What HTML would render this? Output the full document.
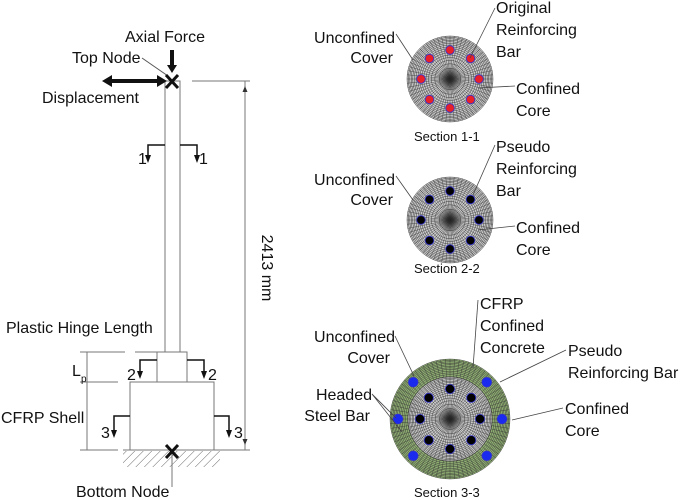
<!DOCTYPE html>
<html><head><meta charset="utf-8"><style>
html,body{margin:0;padding:0;background:#fff;width:685px;height:500px;overflow:hidden}
svg text{font-family:"Liberation Sans",Arial,sans-serif;font-size:16px;fill:#111}
</style></head><body>
<svg id="s" width="685" height="500" viewBox="0 0 685 500" xmlns="http://www.w3.org/2000/svg">
<defs>
<pattern id="h" width="6" height="6" patternUnits="userSpaceOnUse" patternTransform="rotate(45)"><line x1="0" y1="0" x2="0" y2="6" stroke="#666" stroke-width="1"/></pattern>
<radialGradient id="c"><stop offset="0" stop-color="#222" stop-opacity="0.9"/><stop offset="1" stop-color="#222" stop-opacity="0"/></radialGradient>
</defs>
<g stroke="#777" stroke-width="1" fill="none">
<rect x="165" y="81" width="15" height="271"/>
<rect x="157" y="352" width="30" height="30"/>
<rect x="130" y="382" width="84" height="68"/>
<line x1="123" y1="450" x2="250" y2="450"/>
<line x1="192" y1="81" x2="250" y2="81"/>
<line x1="245" y1="81" x2="245" y2="450"/>
<line x1="80" y1="352" x2="125" y2="352"/><line x1="135" y1="352" x2="157" y2="352"/>
<line x1="80" y1="382" x2="118" y2="382"/>
<line x1="80" y1="450" x2="118" y2="450"/>
<line x1="87" y1="352" x2="87" y2="450"/>
<line x1="172" y1="452" x2="172" y2="487"/>
<line x1="142" y1="58" x2="168" y2="76" stroke="#555"/>
</g>
<path d="M245,86 l-2.5,6 h5z M245,445 l-2.5,-6 h5z" fill="#333"/>
<rect x="123" y="451" width="97" height="16" fill="url(#h)"/>
<g stroke="#111" stroke-width="1.5" fill="none">
<path d="M165,145 H148 V157"/><path d="M180,145 H197 V157"/>
<path d="M157,360 H140 V373"/><path d="M187,360 H204 V373"/>
<path d="M130,416 H114 V432"/><path d="M214,416 H229 V432"/>
</g>
<path d="M145,155 h6 l-3,8z M194,155 h6 l-3,8z M137,371 h6 l-3,8z M201,371 h6 l-3,8z M111,430 h6 l-3,8z M226,430 h6 l-3,8z" fill="#111"/>
<g stroke="#111" stroke-width="3">
<line x1="166" y1="75" x2="178" y2="88"/><line x1="178" y1="75" x2="166" y2="88"/>
<line x1="166" y1="445" x2="178" y2="458"/><line x1="178" y1="445" x2="166" y2="458"/>
</g>
<path d="M170,50 h4 v15 h3 l-5,8 l-5,-8 h3z" fill="#111"/>
<path d="M102,81 l10,-6 v4 h45 v-4 l10,6 l-10,6 v-4 h-45 v4z" fill="#111"/>
<text x="125" y="42">Axial Force</text>
<text x="72" y="63">Top Node</text>
<text x="42" y="103">Displacement</text>
<text x="138" y="164">1</text><text x="199" y="164">1</text>
<text x="127" y="380">2</text><text x="208" y="380">2</text>
<text x="101" y="438">3</text><text x="234" y="438">3</text>
<text x="6" y="333">Plastic Hinge Length</text>
<text x="72" y="376">L</text><text x="81" y="382" style="font-size:10px">p</text>
<text x="1" y="423">CFRP Shell</text>
<text x="76" y="497">Bottom Node</text>
<text transform="translate(262,268) rotate(90)" text-anchor="middle">2413 mm</text>
<g id="secs"></g>
<text x="414" y="141" style="font-size:13px">Section 1-1</text>
<text x="414" y="273" style="font-size:13px">Section 2-2</text>
<text x="414" y="497" style="font-size:13px">Section 3-3</text>
<g text-anchor="end">
<text x="395" y="43">Unconfined</text><text x="393" y="63">Cover</text>
<text x="395" y="185">Unconfined</text><text x="393" y="205">Cover</text>
<text x="395" y="342">Unconfined</text><text x="390" y="363">Cover</text>
<text x="372" y="400">Headed</text><text x="370" y="421">Steel Bar</text>
</g>
<text x="496" y="13">Original</text><text x="496" y="35">Reinforcing</text><text x="496" y="57">Bar</text>
<text x="516" y="94">Confined</text><text x="516" y="116">Core</text>
<text x="496" y="152">Pseudo</text><text x="496" y="174">Reinforcing</text><text x="496" y="196">Bar</text>
<text x="516" y="233">Confined</text><text x="516" y="255">Core</text>
<text x="480" y="309">CFRP</text><text x="480" y="331">Confined</text><text x="480" y="353">Concrete</text>
<text x="568" y="356">Pseudo</text><text x="568" y="378">Reinforcing Bar</text>
<text x="565" y="414">Confined</text><text x="565" y="436">Core</text>
<g stroke="#444" stroke-width="0.8" fill="none">
<path d="M396,34 L413,60"/><path d="M495,8 L470,58"/><path d="M515,86 L478,88"/>
<path d="M396,176 L413,200"/><path d="M495,145 L473,195"/><path d="M515,226 L478,230"/>
<path d="M395,336 L414,376"/><path d="M478,300 L473,368"/><path d="M566,350 L500,382"/>
<path d="M372,394 L396,418 M372,394 L402,432"/><path d="M563,408 L512,420"/>
</g>
</svg>
<script>
const NS="http://www.w3.org/2000/svg",g=document.getElementById("secs");
function el(t,a){const e=document.createElementNS(NS,t);for(const k in a)e.setAttribute(k,a[k]);g.appendChild(e);return e;}
function mesh(cx,cy,r,fill,nR,nA,center){
 el("circle",{cx,cy,r,fill});
 for(let i=1;i<=nR;i++)el("circle",{cx,cy,r:r*Math.sqrt(i/nR),fill:"none",stroke:"#333","stroke-width":0.45});
 for(let i=0;i<nA;i++){const a=i*2*Math.PI/nA;el("line",{x1:cx,y1:cy,x2:cx+r*Math.cos(a),y2:cy+r*Math.sin(a),stroke:"#333","stroke-width":0.4});}
 if(center)el("circle",{cx,cy,r:12,fill:"url(#c)"});
}
function bars(cx,cy,R,rb,col,angles){for(const d of angles){const a=d*Math.PI/180;el("circle",{cx:cx+R*Math.cos(a),cy:cy+R*Math.sin(a),r:rb,fill:col,stroke:"#33c","stroke-width":0.8});}}
const A8=[0,45,90,135,180,225,270,315];
mesh(450,79,43,"#c8c8c8",16,64,1);bars(450,79,29,4.3,"#e8202a",A8);
mesh(450,220,43,"#c8c8c8",16,64,1);bars(450,220,29,4.3,"#000",A8);
mesh(450,419,60,"#8fae72",22,80,0);mesh(450,419,42,"#c8c8c8",16,64,1);
bars(450,419,30,4.6,"#000",A8);bars(450,419,52,4.8,"#1a2aee",[0,45,135,180,225,315]);
</script>
</body></html>
